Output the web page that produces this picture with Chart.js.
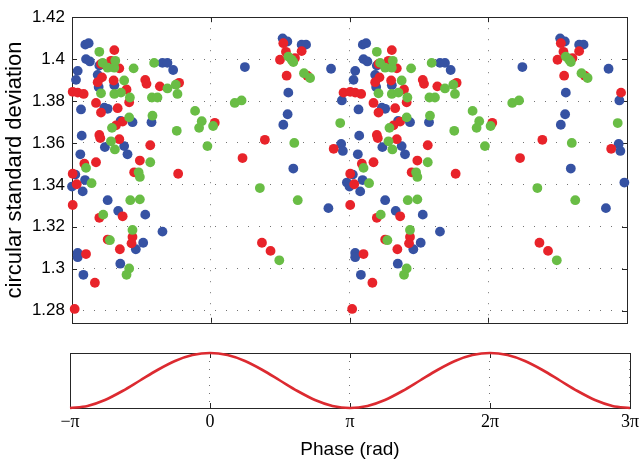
<!DOCTYPE html>
<html>
<head>
<meta charset="utf-8">
<script src="https://cdn.jsdelivr.net/npm/chart.js@4.4.0/dist/chart.umd.min.js"></script>
<style>
    html, body { margin: 0; padding: 0; background: #fff; }
    #wrap { position: relative; width: 642px; height: 466px; }
    #topChart { position: absolute; left: 0; top: 0; }
    #bottomChart { position: absolute; left: 0; top: 340px; }
</style>
</head>
<body>
<div id="wrap">
    <canvas id="topChart" width="642" height="340"></canvas>
    <canvas id="bottomChart" width="642" height="126"></canvas>
</div>
<script>
// Phase is kept in units of pi: -1 means -pi, 3 means 3pi
const phaseTicks = [-1, 0, 1, 2, 3];
const phaseTickLabels = ['\u2212\u03c0', '0', '\u03c0', '2\u03c0', '3\u03c0'];
const csdTicks = [1.28, 1.30, 1.32, 1.34, 1.36, 1.38, 1.40, 1.42];
const csdTickLabels = ['1.28', '1.3', '1.32', '1.34', '1.36', '1.38', '1.4', '1.42'];

// One period of measurements [phase, circular std]; shown again one period later
const bluePoints = [
    [-0.904, 1.4069], [-0.880, 1.4076], [-0.899, 1.4000], [-0.871, 1.3989], [-0.959, 1.3944],
    [-0.971, 1.3901], [-0.935, 1.3760], [-0.803, 1.3969], [-0.808, 1.3867], [-0.815, 1.3925],
    [-0.695, 1.3875], [-0.348, 1.3982], [-0.312, 1.3982], [-0.271, 1.3948], [-0.767, 1.3768],
    [-0.743, 1.3763], [-0.427, 1.3699], [-0.564, 1.3699], [-0.650, 1.3705], [-0.930, 1.3635],
    [-0.763, 1.3580], [-0.624, 1.3585], [-0.600, 1.3546], [-0.940, 1.3546], [-0.976, 1.3449],
    [0.981, 1.3411], [-1.000, 1.3392], [-0.906, 1.3423], [-0.923, 1.3369], [-0.743, 1.3327],
    [-0.667, 1.3276], [-0.472, 1.3258], [-0.348, 1.3177], [-0.487, 1.3124], [-0.540, 1.3093],
    [-0.959, 1.3075], [-0.959, 1.3055], [-0.652, 1.3024], [-0.918, 1.2971], [0.246, 1.3962],
    [0.518, 1.4099], [0.552, 1.4084], [0.655, 1.4069], [0.687, 1.4069], [0.559, 1.3840],
    [0.867, 1.3954], [0.554, 1.3737], [0.523, 1.3687], [0.940, 1.3595], [0.952, 1.3562],
    [0.945, 1.3803], [0.595, 1.3478], [0.848, 1.3289]
];
const redPoints = [
    [-0.695, 1.4043], [-0.791, 1.3977], [-0.719, 1.3992], [-0.659, 1.3956], [-0.784, 1.3913],
    [-0.815, 1.3890], [-0.700, 1.3898], [-0.472, 1.3901], [-0.463, 1.3882], [-0.367, 1.3870],
    [-0.228, 1.3887], [0.957, 1.3840], [-0.995, 1.3844], [-0.959, 1.3840], [-0.916, 1.3834],
    [-0.607, 1.3855], [-0.588, 1.3794], [-0.827, 1.3791], [-0.671, 1.3766], [-0.791, 1.3745],
    [0.029, 1.3696], [-0.635, 1.3702], [-0.683, 1.3684], [-0.803, 1.3638], [-0.796, 1.3623],
    [-0.659, 1.3618], [-0.436, 1.3589], [0.886, 1.3572], [-0.911, 1.3501], [-0.827, 1.3508],
    [-0.511, 1.3516], [-0.995, 1.3453], [-0.552, 1.3460], [-0.235, 1.3453], [-0.966, 1.3403],
    [-0.995, 1.3304], [-0.803, 1.3243], [-0.635, 1.3250], [-0.743, 1.3139], [-0.564, 1.3151],
    [-0.571, 1.3121], [-0.655, 1.3093], [-0.899, 1.3070], [-0.835, 1.2933], [-0.981, 1.2808],
    [0.523, 1.4076], [0.542, 1.4035], [0.499, 1.3997], [0.607, 1.4005], [0.655, 1.4038],
    [0.547, 1.3921], [0.696, 1.3921], [0.390, 1.3615], [0.229, 1.3528], [0.369, 1.3124],
    [0.431, 1.3085]
];
const greenPoints = [
    [-0.803, 1.4035], [-0.779, 1.3982], [-0.743, 1.3959], [-0.695, 1.3959], [-0.688, 1.3992],
    [-0.556, 1.3956], [-0.408, 1.3982], [-0.624, 1.3898], [-0.312, 1.3860], [-0.252, 1.3878],
    [-0.240, 1.3834], [-0.791, 1.3837], [-0.695, 1.3834], [-0.647, 1.3840], [-0.583, 1.3817],
    [-0.424, 1.3817], [-0.384, 1.3817], [-0.113, 1.3753], [-0.065, 1.3704], [-0.084, 1.3672],
    [0.017, 1.3681], [-0.420, 1.3730], [-0.588, 1.3722], [-0.712, 1.3672], [0.933, 1.3695],
    [-0.245, 1.3658], [-0.719, 1.3608], [-0.691, 1.3569], [-0.024, 1.3585], [-0.436, 1.3508],
    [-0.899, 1.3481], [-0.520, 1.3460], [-0.511, 1.3438], [-0.859, 1.3408], [-0.580, 1.3327],
    [-0.511, 1.3331], [-0.775, 1.3258], [-0.564, 1.3185], [-0.727, 1.3136], [-0.588, 1.3001],
    [-0.607, 1.2971], [0.559, 1.4012], [0.583, 1.3997], [0.595, 1.3986], [0.672, 1.3933],
    [0.716, 1.3910], [0.173, 1.3791], [0.222, 1.3803], [0.602, 1.3600], [0.354, 1.3385],
    [0.627, 1.3327], [0.494, 1.3040]
];
const periodShifts = [0, 2];

// Reference oscillation in the lower panel, read every pi/8
const wavePhase = [
    -1, -0.875, -0.75, -0.625, -0.5, -0.375, -0.25, -0.125, 0,
    0.125, 0.25, 0.375, 0.5, 0.625, 0.75, 0.875, 1,
    1.125, 1.25, 1.375, 1.5, 1.625, 1.75, 1.875, 2,
    2.125, 2.25, 2.375, 2.5, 2.625, 2.75, 2.875, 3
];
const waveLevel = [
    0, 0.038, 0.146, 0.309, 0.5, 0.691, 0.854, 0.962, 1,
    0.962, 0.854, 0.691, 0.5, 0.309, 0.146, 0.038, 0,
    0.038, 0.146, 0.309, 0.5, 0.691, 0.854, 0.962, 1,
    0.962, 0.854, 0.691, 0.5, 0.309, 0.146, 0.038, 0
];

const BLUE = '#3652a3';
const RED = '#e8232a';
const GREEN = '#69bd45';
const GRID = 'rgba(0, 0, 0, 0.55)';
const SANS = '"Liberation Sans", Arial, Helvetica, sans-serif';
const SERIF = '"Liberation Serif", "Times New Roman", serif';

function pointSet(points, color) {
    const data = [];
    periodShifts.forEach(shift => {
        points.forEach(p => data.push({ x: p[0] + shift, y: p[1] }));
    });
    return {
        data: data,
        backgroundColor: color,
        borderWidth: 0,
        pointRadius: 4.9,
        pointHoverRadius: 4.9,
        clip: false
    };
}

// Box around the plot with small inward ticks, drawn under the markers
const framePlugin = {
    id: 'frame',
    beforeDatasetsDraw(chart, args, opts) {
        const { ctx, chartArea: a, scales } = chart;
        ctx.save();
        ctx.strokeStyle = '#262626';
        ctx.lineWidth = 1;
        ctx.strokeRect(Math.round(a.left) + 0.5, Math.round(a.top) + 0.5,
            Math.round(a.right) - Math.round(a.left), Math.round(a.bottom) - Math.round(a.top));
        ctx.beginPath();
        scales.x.ticks.forEach(t => {
            const px = Math.round(scales.x.getPixelForValue(t.value)) + 0.5;
            ctx.moveTo(px, a.top);
            ctx.lineTo(px, a.top + 5);
            ctx.moveTo(px, a.bottom);
            ctx.lineTo(px, a.bottom - 5);
        });
        if (opts.yTicks) {
            scales.y.ticks.forEach(t => {
                const py = Math.round(scales.y.getPixelForValue(t.value)) + 0.5;
                ctx.moveTo(a.left, py);
                ctx.lineTo(a.left + 5, py);
                ctx.moveTo(a.right, py);
                ctx.lineTo(a.right - 5, py);
            });
        }
        ctx.stroke();
        ctx.restore();
    }
};

new Chart(document.getElementById('topChart'), {
    type: 'scatter',
    data: {
        // first dataset is painted last, so green ends up on top
        datasets: [pointSet(greenPoints, GREEN), pointSet(redPoints, RED), pointSet(bluePoints, BLUE)]
    },
    options: {
        responsive: false,
        animation: false,
        events: [],
        layout: { padding: { top: 11, right: 15, bottom: 11, left: 0 } },
        plugins: {
            legend: { display: false },
            tooltip: { enabled: false },
            frame: { yTicks: true }
        },
        scales: {
            x: {
                type: 'linear',
                min: -1,
                max: 3,
                afterBuildTicks: s => { s.ticks = phaseTicks.map(v => ({ value: v })); },
                afterFit: s => { s.height = 0; },
                ticks: { display: false },
                grid: { color: GRID, lineWidth: 1, drawTicks: false },
                border: { display: false, dash: [1, 10] }
            },
            y: {
                type: 'linear',
                min: 1.2742,
                max: 1.42,
                afterBuildTicks: s => { s.ticks = csdTicks.map(v => ({ value: v })); },
                afterFit: s => { s.width = 72; },
                ticks: {
                    callback: (v, i) => csdTickLabels[i],
                    font: { family: SANS, size: 17 },
                    color: '#000',
                    padding: 7
                },
                title: {
                    display: true,
                    text: 'circular standard deviation',
                    font: { family: SANS, size: 22 },
                    color: '#000',
                    padding: { top: 2, bottom: 0 }
                },
                grid: { color: GRID, lineWidth: 1, drawTicks: false },
                border: { display: false, dash: [1, 10] }
            }
        }
    },
    plugins: [framePlugin]
});

new Chart(document.getElementById('bottomChart'), {
    type: 'line',
    data: {
        datasets: [{
            data: wavePhase.map((p, i) => ({ x: p, y: waveLevel[i] })),
            borderColor: '#dc2a30',
            borderWidth: 2.6,
            pointRadius: 0,
            cubicInterpolationMode: 'monotone',
            clip: false
        }]
    },
    options: {
        responsive: false,
        animation: false,
        events: [],
        layout: { padding: { top: 13, right: 12, bottom: 0, left: 70 } },
        plugins: {
            legend: { display: false },
            tooltip: { enabled: false },
            frame: { yTicks: false }
        },
        scales: {
            x: {
                type: 'linear',
                min: -1,
                max: 3,
                afterBuildTicks: s => { s.ticks = phaseTicks.map(v => ({ value: v })); },
                afterFit: s => { s.height = 58; },
                ticks: {
                    callback: (v, i) => phaseTickLabels[i],
                    font: { family: SERIF, size: 18 },
                    color: '#000',
                    padding: 3,
                    maxRotation: 0,
                    autoSkip: false
                },
                title: {
                    display: true,
                    text: 'Phase (rad)',
                    font: { family: SANS, size: 19 },
                    color: '#000',
                    padding: { top: 0, bottom: 4.6 }
                },
                grid: { color: GRID, lineWidth: 1, drawTicks: false },
                border: { display: false, dash: [1, 7] }
            },
            y: { display: false, min: 0, max: 1 }
        }
    },
    plugins: [framePlugin]
});
</script>
</body>
</html>
